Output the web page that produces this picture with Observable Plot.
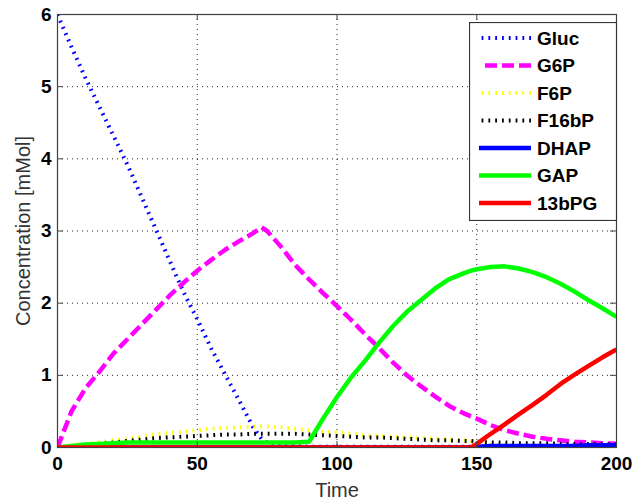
<!DOCTYPE html>
<html><head><meta charset="utf-8">
<script src="https://cdn.jsdelivr.net/npm/d3@7"></script>
<script src="https://cdn.jsdelivr.net/npm/@observablehq/plot@0.6"></script>
<style>
body{margin:0;background:#fff;}
#wrap{position:relative;width:636px;height:504px;background:#fff;}
</style></head><body><div id="wrap"></div>
<script>
const time = [0,5,10,15,20,25,30,35,40,45,50,55,60,65,70,73,75,80,85,90,95,100,105,110,115,120,125,130,135,140,145,148,150,155,160,165,170,175,180,185,190,195,200];
const gluc = [6.00,5.55,5.12,4.72,4.32,3.92,3.48,3.04,2.60,2.16,1.78,1.37,1.01,0.65,0.28,0.12,0.07,0.03,0.02,0.01,0.01,0.01,0.01,0.01,0.01,0.01,0.01,0.01,0.01,0.01,0.01,0.01,0,0,0,0,0,0,0,0,0,0,0];
const g6p = [0,0.50,0.82,1.05,1.30,1.50,1.70,1.90,2.10,2.28,2.45,2.60,2.74,2.86,2.97,3.05,3.00,2.78,2.53,2.33,2.14,1.96,1.77,1.57,1.38,1.18,1.00,0.85,0.71,0.58,0.48,0.43,0.40,0.31,0.24,0.19,0.15,0.12,0.10,0.08,0.07,0.06,0.05];
const f6p = [0,0.03,0.05,0.07,0.10,0.12,0.15,0.18,0.20,0.22,0.24,0.26,0.27,0.28,0.29,0.29,0.29,0.28,0.26,0.24,0.22,0.21,0.19,0.17,0.16,0.15,0.14,0.13,0.12,0.11,0.10,0.09,0.06,0.04,0.03,0.02,0.02,0.02,0.02,0.02,0.02,0.02,0.02];
const f16bp = [0,0.01,0.03,0.05,0.07,0.09,0.11,0.13,0.14,0.15,0.16,0.17,0.18,0.18,0.19,0.19,0.19,0.19,0.19,0.18,0.17,0.16,0.15,0.14,0.14,0.13,0.12,0.11,0.10,0.10,0.09,0.09,0.08,0.07,0.07,0.06,0.06,0.06,0.05,0.05,0.05,0.05,0.04];
const dhap = [0,0,0,0,0,0,0,0,0,0,0,0,0,0,0,0,0,0,0,0,0,0,0,0,0,0,0,0,0,0,0,0,0.01,0.02,0.02,0.02,0.02,0.02,0.02,0.02,0.03,0.03,0.03];
const gap = [0,0.02,0.04,0.05,0.06,0.07,0.07,0.07,0.07,0.07,0.07,0.07,0.07,0.07,0.07,0.07,0.07,0.07,0.07,0.08,0.40,0.70,0.97,1.20,1.45,1.68,1.88,2.04,2.20,2.33,2.41,2.45,2.47,2.50,2.51,2.48,2.43,2.36,2.27,2.16,2.04,1.93,1.81];
const bpg13 = [0,0,0,0,0,0,0,0,0,0,0,0,0,0,0,0,0,0,0,0,0,0,0,0,0,0,0,0,0,0,0,0,0.05,0.19,0.32,0.46,0.59,0.73,0.88,1.01,1.13,1.25,1.36];

const seriesNames = ["Gluc","G6P","F6P","F16bP","DHAP","GAP","13bPG"];
const seriesValues = [gluc,g6p,f6p,f16bp,dhap,gap,bpg13];
const seriesColors = ["#0000ff","#ff00ff","#ffff00","#000000","#0000ff","#00ff00","#ff0000"];
const seriesStyles = ["dot","dash","dot","dot","solid","solid","solid"];
const xTicks = [0,50,100,150,200];
const yTicks = [0,1,2,3,4,5,6];

const styleMap = {
  dot:   {strokeWidth: 4,   strokeDasharray: "1.8,5", strokeLinecap: "butt"},
  dash:  {strokeWidth: 4.5, strokeDasharray: "12,5",  strokeLinecap: "butt"},
  solid: {strokeWidth: 4.5, strokeDasharray: null,    strokeLinecap: "butt"}
};

const W = 636, H = 504, mL = 57, mR = 20, mT = 14, mB = 57;
const fw = W - mL - mR, fh = H - mT - mB, tk = 6;

const lineMarks = seriesNames.map((name, i) => {
  const rows = time.map((t, j) => ({t, v: seriesValues[i][j]}));
  const st = styleMap[seriesStyles[i]];
  return Plot.line(rows, {x: "t", y: "v", stroke: seriesColors[i], strokeWidth: st.strokeWidth,
    strokeDasharray: st.strokeDasharray, strokeLinecap: st.strokeLinecap, strokeLinejoin: "round", clip: true});
});

const font = "'Liberation Sans', Arial, Helvetica, sans-serif";
const chart = Plot.plot({
  width: W, height: H,
  marginLeft: mL, marginRight: mR, marginTop: mT, marginBottom: mB,
  style: {fontFamily: font, background: "white", overflow: "visible"},
  x: {domain: [0, 200], label: null},
  y: {domain: [0, 6], label: null},
  marks: [
    Plot.gridX(xTicks, {stroke: "#000", strokeOpacity: 0.85, strokeDasharray: "1,4"}),
    Plot.gridY(yTicks, {stroke: "#000", strokeOpacity: 0.85, strokeDasharray: "1,4"}),
    ...lineMarks,
    Plot.frame({stroke: "#404040", strokeWidth: 1.2}),
    Plot.tickX(xTicks, {x: d => d, insetTop: fh - tk, stroke: "#404040"}),
    Plot.tickX(xTicks, {x: d => d, insetBottom: fh - tk, stroke: "#404040"}),
    Plot.tickY(yTicks, {y: d => d, insetRight: fw - tk, stroke: "#404040"}),
    Plot.tickY(yTicks, {y: d => d, insetLeft: fw - tk, stroke: "#404040"}),
    Plot.axisX(xTicks, {tickSize: 0, tickPadding: 9, fontSize: 19, fontWeight: "bold", fill: "#000", label: null, tickFormat: d => String(d)}),
    Plot.axisY(yTicks, {tickSize: 0, tickPadding: 6, fontSize: 19, fontWeight: "bold", fill: "#000", label: null, tickFormat: d => String(d)}),
    Plot.text(["Time"], {frameAnchor: "bottom", dy: 43, lineAnchor: "middle", textAnchor: "middle", fontSize: 20, fill: "#333", text: d => d}),
    Plot.text(["Concentration [mMol]"], {frameAnchor: "left", rotate: -90, dx: -34, textAnchor: "middle", lineAnchor: "middle", fontSize: 20, fill: "#333", text: d => d})
  ]
});
document.getElementById("wrap").appendChild(chart);

// legend
const legW = 148, legH = 199;
const leg = d3.select("#wrap").append("svg")
  .attr("width", legW).attr("height", legH)
  .style("position", "absolute").style("left", "469px").style("top", "22px");
leg.append("rect").attr("x", 0.5).attr("y", 0.5).attr("width", legW - 1).attr("height", legH - 1)
  .attr("fill", "white").attr("stroke", "#333").attr("stroke-width", 1.2);
seriesNames.forEach((name, i) => {
  const y = 16 + 27.5 * i;
  const st = styleMap[seriesStyles[i]];
  leg.append("line")
    .attr("x1", 62).attr("x2", seriesStyles[i] === "dash" ? 15 : 10)
    .attr("y1", y).attr("y2", y)
    .attr("stroke", seriesColors[i]).attr("stroke-width", st.strokeWidth)
    .attr("stroke-dasharray", st.strokeDasharray).attr("stroke-linecap", "butt");
  leg.append("text").attr("x", 68).attr("y", y).attr("dy", "0.35em")
    .attr("font-family", font).attr("font-size", 19).attr("font-weight", "bold")
    .attr("fill", "#000").text(name);
});
</script></body></html>
